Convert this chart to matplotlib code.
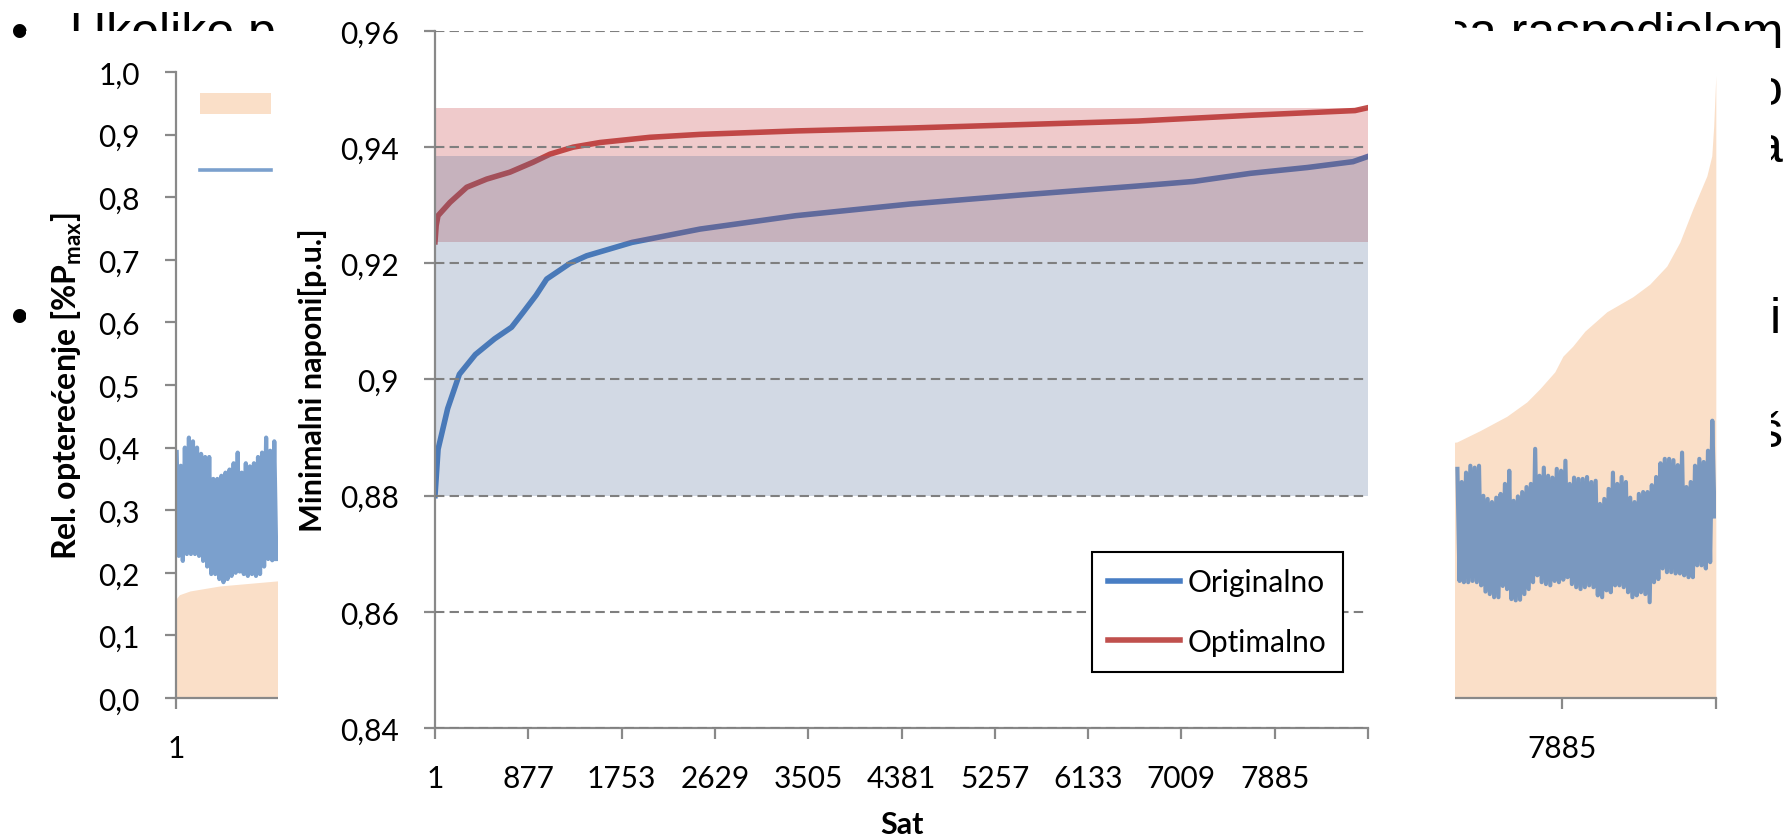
import numpy as np
import matplotlib
matplotlib.use("Agg")
import matplotlib.pyplot as plt
from matplotlib.patches import Rectangle, Patch
from matplotlib.lines import Line2D

plt.rcParams['font.family'] = ['Lato', 'DejaVu Sans']
plt.rcParams['mathtext.fontset'] = 'custom'
plt.rcParams['mathtext.rm'] = 'Lato:bold'
plt.rcParams['mathtext.it'] = 'Lato:bold'
plt.rcParams['mathtext.bf'] = 'Lato:bold'

# ---------------- data ----------------
hour_ticks = [1, 877, 1753, 2629, 3505, 4381, 5257, 6133, 7009, 7885, 8761]
hour_tick_labels = ['1', '877', '1753', '2629', '3505', '4381', '5257', '6133', '7009', '7885', '']

volt_ticks = [0.84, 0.86, 0.88, 0.90, 0.92, 0.94, 0.96]
volt_tick_labels = ['0,84', '0,86', '0,88', '0,9', '0,92', '0,94', '0,96']

load_ticks = [0.0, 0.1, 0.2, 0.3, 0.4, 0.5, 0.6, 0.7, 0.8, 0.9, 1.0]
load_tick_labels = ['0,0', '0,1', '0,2', '0,3', '0,4', '0,5', '0,6', '0,7', '0,8', '0,9', '1,0']

# foreground chart: sorted minimal voltages
orig_hours = [1, 30, 120, 230, 380, 560, 720, 830, 950, 1050, 1268, 1425, 1850, 2490,
              3387, 4455, 5523, 6591, 7125, 7659, 8193, 8620, 8760]
orig_vals = [0.880, 0.888, 0.895, 0.9009, 0.9043, 0.907, 0.909, 0.9116, 0.9145, 0.9173,
             0.920, 0.9213, 0.9236, 0.9259, 0.9282, 0.9302, 0.9318, 0.9333, 0.9341,
             0.9355, 0.9365, 0.9375, 0.9384]

opt_hours = [1, 12, 29, 142, 299, 486, 705, 921, 1081, 1297, 1550, 2020, 2489, 3400,
             4470, 5537, 6602, 7672, 8639, 8760]
opt_vals = [0.9237, 0.9265, 0.9282, 0.9305, 0.9331, 0.9345, 0.9357, 0.9374, 0.9388,
            0.9400, 0.9408, 0.9417, 0.9422, 0.9428, 0.9433, 0.9439, 0.9445, 0.9455,
            0.9463, 0.9468]

# background chart: sorted relative load (area)
load_hours = [1, 20, 81, 251, 575, 7287, 7418, 7571, 7685, 7759, 7844, 7890, 7946, 8015,
              8140, 8288, 8384, 8481, 8555, 8629, 8709, 8737, 8748, 8760]
load_vals = [0.158, 0.165, 0.171, 0.179, 0.187, 0.409, 0.427, 0.450, 0.473, 0.494, 0.521,
             0.546, 0.562, 0.586, 0.617, 0.641, 0.661, 0.690, 0.728, 0.781, 0.834,
             0.866, 0.914, 0.994]

# background chart: relative load line (daily peaks / troughs, visible parts)
rel_left_span = (5, 560)
rel_left_peaks = [0.393, 0.371, 0.400, 0.416, 0.410, 0.400, 0.390, 0.385, 0.385, 0.350,
                  0.350, 0.355, 0.360, 0.365, 0.375, 0.392, 0.360, 0.375, 0.370, 0.375,
                  0.385, 0.392, 0.416, 0.395, 0.410]
rel_left_troughs = [0.227, 0.219, 0.230, 0.230, 0.230, 0.227, 0.219, 0.210, 0.198, 0.198,
                    0.190, 0.185, 0.190, 0.195, 0.200, 0.202, 0.198, 0.195, 0.198, 0.195,
                    0.198, 0.210, 0.222, 0.220, 0.222]
rel_right_span = (7290, 8740)
rel_right_peaks = [0.366, 0.345, 0.360, 0.371, 0.368, 0.371, 0.323, 0.318, 0.313, 0.320,
                   0.326, 0.342, 0.363, 0.315, 0.322, 0.329, 0.337, 0.342, 0.398, 0.355,
                   0.368, 0.355, 0.352, 0.366, 0.363, 0.379, 0.342, 0.352, 0.350, 0.350,
                   0.353, 0.345, 0.347, 0.310, 0.318, 0.334, 0.360, 0.342, 0.353, 0.345,
                   0.320, 0.313, 0.326, 0.329, 0.329, 0.340, 0.353, 0.375, 0.382, 0.382,
                   0.380, 0.372, 0.392, 0.337, 0.345, 0.371, 0.382, 0.377, 0.395, 0.443]
rel_right_troughs = [0.187, 0.185, 0.185, 0.187, 0.185, 0.180, 0.170, 0.166, 0.161, 0.161,
                     0.179, 0.174, 0.158, 0.156, 0.157, 0.166, 0.174, 0.185, 0.196, 0.185,
                     0.182, 0.180, 0.187, 0.185, 0.189, 0.193, 0.182, 0.177, 0.174, 0.177,
                     0.180, 0.177, 0.164, 0.161, 0.172, 0.169, 0.180, 0.180, 0.177, 0.169,
                     0.161, 0.164, 0.169, 0.166, 0.153, 0.185, 0.190, 0.207, 0.201, 0.201,
                     0.199, 0.199, 0.196, 0.193, 0.193, 0.212, 0.212, 0.207, 0.217, 0.290]

# ---------------- figure ----------------
W, H = 1785, 837
fig = plt.figure(figsize=(W / 100, H / 100), dpi=100)
fig.patch.set_facecolor('white')


def box(l, t, r, b):
    return [l / W, 1 - b / H, (r - l) / W, (b - t) / H]


GRAY = '#898989'
C_ORIG = '#487EC4'
C_OPT = '#C0504D'
C_LOAD = '#FADFC8'
C_REL = '#4F81BD'
FG_LEFT, FG_RIGHT = 278, 1455   # white area of the front chart (pixels)

# ---- slide text behind the charts ----
sf = dict(family=['Liberation Sans', 'DejaVu Sans'], fontsize=36, color='black',
          va='baseline', zorder=0.5)
fig.text(11 / W, 1 - 48 / H, '•', ha='left', **sf)
fig.text(11 / W, 1 - 333 / H, '•', ha='left', **sf)
fig.text(70 / W, 1 - 48 / H, 'Ukoliko pu', ha='left', **sf)
fig.text(1783 / W, 1 - 48 / H, 'sa raspodjelom', ha='right', **sf)
fig.text(1783 / W, 1 - 105 / H, 'o', ha='right', **sf)
fig.text(1783 / W, 1 - 162 / H, 'a', ha='right', **sf)
fig.text(1770 / W, 1 - 333 / H, 'i', ha='left', **sf)
fig.text(1783 / W, 1 - 447 / H, 'š', ha='right', **sf)

# ---- background chart ----
fig.add_artist(Rectangle((26 / W, 0), (1771 - 26) / W, 1 - 32 / H,
                         transform=fig.transFigure, facecolor='white',
                         edgecolor='none', zorder=0.8))
ax_bg = fig.add_axes(box(176, 73, 1716, 699), zorder=1)
ax_bg.patch.set_visible(False)


def zigzag(span, peaks, troughs):
    h = np.linspace(span[0], span[1], len(peaks))
    step = h[1] - h[0]
    x = np.empty(2 * len(peaks))
    y = np.empty(2 * len(peaks))
    x[0::2] = h
    x[1::2] = h + step / 2
    y[0::2] = peaks
    y[1::2] = troughs
    return x, y


xl, yl = zigzag(rel_left_span, rel_left_peaks, rel_left_troughs)
xr, yr = zigzag(rel_right_span, rel_right_peaks, rel_right_troughs)
rel_x = np.concatenate([xl, [np.nan], xr])
rel_y = np.concatenate([yl, [np.nan], yr])

ax_bg.fill_between(load_hours, 0, load_vals, color=C_LOAD, lw=0, zorder=1)
ax_bg.plot(rel_x, rel_y, color=C_REL, alpha=0.75, lw=3.0, zorder=2)

ax_bg.set_xlim(1, 8761)
ax_bg.set_ylim(0, 1)
for s in ['top', 'right']:
    ax_bg.spines[s].set_visible(False)
for s in ['left', 'bottom']:
    ax_bg.spines[s].set_color(GRAY)
    ax_bg.spines[s].set_linewidth(1.6)
ax_bg.set_xticks(hour_ticks, hour_tick_labels)
ax_bg.set_yticks(load_ticks, load_tick_labels)
ax_bg.tick_params(axis='both', direction='out', length=8, width=1.6, color=GRAY,
                  labelsize=21.5, pad=18)
# tick labels of the back chart that lie under the front chart are not shown
for h, lab in zip(hour_ticks, ax_bg.get_xticklabels()):
    px = ax_bg.transData.transform((h, 0))[0]
    if FG_LEFT - 30 < px < FG_RIGHT + 30:
        lab.set_visible(False)

ax_bg.set_ylabel('Rel. opterećenje [%P$_{\\mathrm{max}}$]', fontsize=23, fontweight='bold')
ax_bg.yaxis.set_label_coords((67 - 176) / 1540, 0.5)
ax_bg.yaxis.label.set_va('center')
ax_bg.yaxis.label.set_ha('center')

bg_handles = [Patch(facecolor=C_LOAD, edgecolor='none'),
              Line2D([], [], color=C_REL, alpha=0.75, lw=2.6)]
bg_leg = ax_bg.legend(bg_handles, ['Sortirano opterećenje', 'Opterećenje'], loc='upper left',
                      bbox_to_anchor=(200 / W, 1 - 92 / H), bbox_transform=fig.transFigure,
                      frameon=False, borderpad=0, borderaxespad=0, fontsize=21.5,
                      handlelength=2.37, handleheight=0.7, labelspacing=1.29,
                      handletextpad=0.5)
for t in bg_leg.get_texts():   # these labels are covered by the front chart
    t.set_visible(False)

# ---- foreground chart ----
fig.add_artist(Rectangle((FG_LEFT / W, 0), (FG_RIGHT - FG_LEFT) / W, 1,
                         transform=fig.transFigure, facecolor='white',
                         edgecolor='none', zorder=2))
ax = fig.add_axes(box(435, 32, 1368, 729), zorder=3)
ax.patch.set_visible(False)

ax.plot(orig_hours, orig_vals, color=C_ORIG, lw=4, zorder=2, label='Originalno')
ax.plot(opt_hours, opt_vals, color=C_OPT, lw=4, zorder=2, label='Optimalno')
ax.fill_between([opt_hours[0], opt_hours[-1]], min(opt_vals), max(opt_vals),
                color=(195 / 255, 47 / 255, 51 / 255), alpha=0.25, lw=0, zorder=2.2)
ax.fill_between([orig_hours[0], orig_hours[-1]], min(orig_vals), max(orig_vals),
                color=(79 / 255, 107 / 255, 151 / 255), alpha=0.25, lw=0, zorder=2.2)

ax.set_xlim(1, 8761)
ax.set_ylim(0.84, 0.96)
ax.set_axisbelow(False)
ax.yaxis.grid(True, color='#7F7F7F', lw=1.5, linestyle=(0, (4.5, 2.5)))
ax.xaxis.grid(False)
for s in ['top', 'right']:
    ax.spines[s].set_visible(False)
for s in ['left', 'bottom']:
    ax.spines[s].set_color(GRAY)
    ax.spines[s].set_linewidth(1.6)
ax.set_xticks(hour_ticks, hour_tick_labels)
ax.set_yticks(volt_ticks, volt_tick_labels)
ax.tick_params(axis='both', direction='out', length=8, width=1.6, color=GRAY,
               labelsize=21.5, pad=18)

ax.set_ylabel('Minimalni naponi[p.u.]', fontsize=22, fontweight='bold')
ax.yaxis.set_label_coords((313 - 435) / 933, 0.5)
ax.yaxis.label.set_va('center')
ax.yaxis.label.set_ha('center')
ax.set_xlabel('Sat', fontsize=22, fontweight='bold')
ax.xaxis.set_label_coords(0.5, (729 - 825) / 697)
ax.xaxis.label.set_va('center')

leg = ax.legend(loc='upper left', bbox_to_anchor=(1092 / W, 1 - 553 / H),
                bbox_transform=fig.transFigure, borderaxespad=0, fontsize=21.5,
                handlelength=2.4, handletextpad=0.25, labelspacing=1.05,
                borderpad=0.55, fancybox=False, framealpha=1, edgecolor='black')
leg.get_frame().set_linewidth(1.5)
leg.set_zorder(5)

fig.savefig('out.png', dpi=100, facecolor='white')
